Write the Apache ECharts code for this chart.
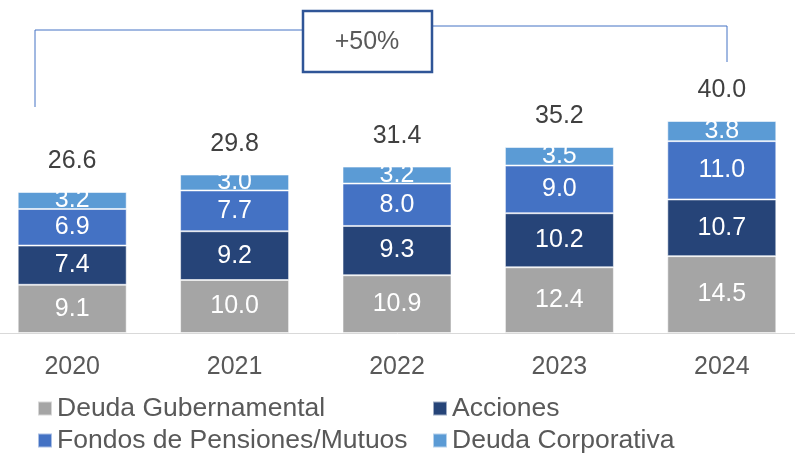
<!DOCTYPE html>
<html>
<head>
<meta charset="utf-8">
<script src="https://cdn.jsdelivr.net/npm/echarts@6/dist/echarts.min.js"></script>
<style>
  html, body { margin: 0; padding: 0; background: #fff; }
  #chart { width: 795px; height: 457px; }
</style>
</head>
<body>
<div id="chart"></div>
<script>
// datos por año (miles de millones)
const years = ['2020', '2021', '2022', '2023', '2024']
const deudaGub = [9.1, 10.0, 10.9, 12.4, 14.5]
const acciones = [7.4, 9.2, 9.3, 10.2, 10.7]
const fondos = [6.9, 7.7, 8.0, 9.0, 11.0]
const deudaCorp = [3.2, 3.0, 3.2, 3.5, 3.8]
const totales = [26.6, 29.8, 31.4, 35.2, 40.0]
const crecimiento = '+50%'

const font = 'Liberation Sans, Arial, sans-serif'
const colors = ['#A5A5A5', '#264478', '#4472C4', '#5B9BD5']

const chart = echarts.init(document.getElementById('chart'))

const innerLabel = {
  show: true,
  position: 'inside',
  color: '#fff',
  fontSize: 25,
  fontFamily: font,
  formatter: p => p.value.toFixed(1)
}

const segment = (name, data, color) => ({
  name,
  type: 'bar',
  stack: 'total',
  data,
  barWidth: 109,
  itemStyle: { color, borderColor: 'rgba(255,255,255,0.55)', borderWidth: 1 },
  label: innerLabel,
  emphasis: { disabled: true }
})

const legendItem = (name, left, top) => ({
  data: [name],
  left,
  top,
  icon: 'rect',
  itemWidth: 14,
  itemHeight: 14,
  itemGap: 0,
  padding: 0,
  selectedMode: false,
  textStyle: { fontSize: 26.5, color: '#595959', fontFamily: font, padding: [0, 0, 0, 0] }
})

const option = {
  animation: false,
  color: colors,
  grid: { left: -9, width: 812, top: 68, bottom: 124, outerBoundsMode: 'none', containLabel: false },
  legend: [
    legendItem('Deuda Gubernamental', 37, 395),
    legendItem('Acciones', 432, 395),
    legendItem('Fondos de Pensiones/Mutuos', 37, 427),
    legendItem('Deuda Corporativa', 432, 427)
  ],
  xAxis: {
    type: 'category',
    data: years,
    axisLine: { lineStyle: { color: '#D9D9D9', width: 1 } },
    axisTick: { show: false },
    axisLabel: { fontSize: 25, color: '#595959', fontFamily: font, margin: 22 }
  },
  yAxis: {
    type: 'value',
    min: 0,
    max: 50,
    show: false,
    splitLine: { show: false }
  },
  series: [
    segment('Deuda Gubernamental', deudaGub, colors[0]),
    segment('Acciones', acciones, colors[1]),
    segment('Fondos de Pensiones/Mutuos', fondos, colors[2]),
    segment('Deuda Corporativa', deudaCorp, colors[3]),
    {
      name: 'Total',
      type: 'bar',
      data: totales,
      barWidth: 109,
      barGap: '-100%',
      itemStyle: { color: 'rgba(0,0,0,0)' },
      emphasis: { disabled: true },
      silent: true,
      z: 1,
      label: {
        show: true,
        position: 'top',
        distance: 18,
        fontSize: 25,
        color: '#404040',
        fontFamily: font,
        formatter: p => p.value.toFixed(1)
      }
    }
  ],
  graphic: [
    {
      type: 'polyline',
      shape: { points: [[35, 107], [35, 30], [302, 30]] },
      style: { stroke: '#4472C4', lineWidth: 1, fill: null }
    },
    {
      type: 'polyline',
      shape: { points: [[432, 26], [727, 26], [727, 62]] },
      style: { stroke: '#4472C4', lineWidth: 1, fill: null }
    },
    {
      type: 'rect',
      shape: { x: 303, y: 11, width: 129, height: 61 },
      style: { fill: '#fff', stroke: '#2F5597', lineWidth: 2.5 }
    },
    {
      type: 'text',
      x: 367,
      y: 42,
      style: {
        text: crecimiento,
        fontSize: 25,
        fill: '#595959',
        fontFamily: font,
        align: 'center',
        verticalAlign: 'middle'
      }
    }
  ]
}

chart.setOption(option)

window.addEventListener('resize', () => chart.resize())
</script>
</body>
</html>
